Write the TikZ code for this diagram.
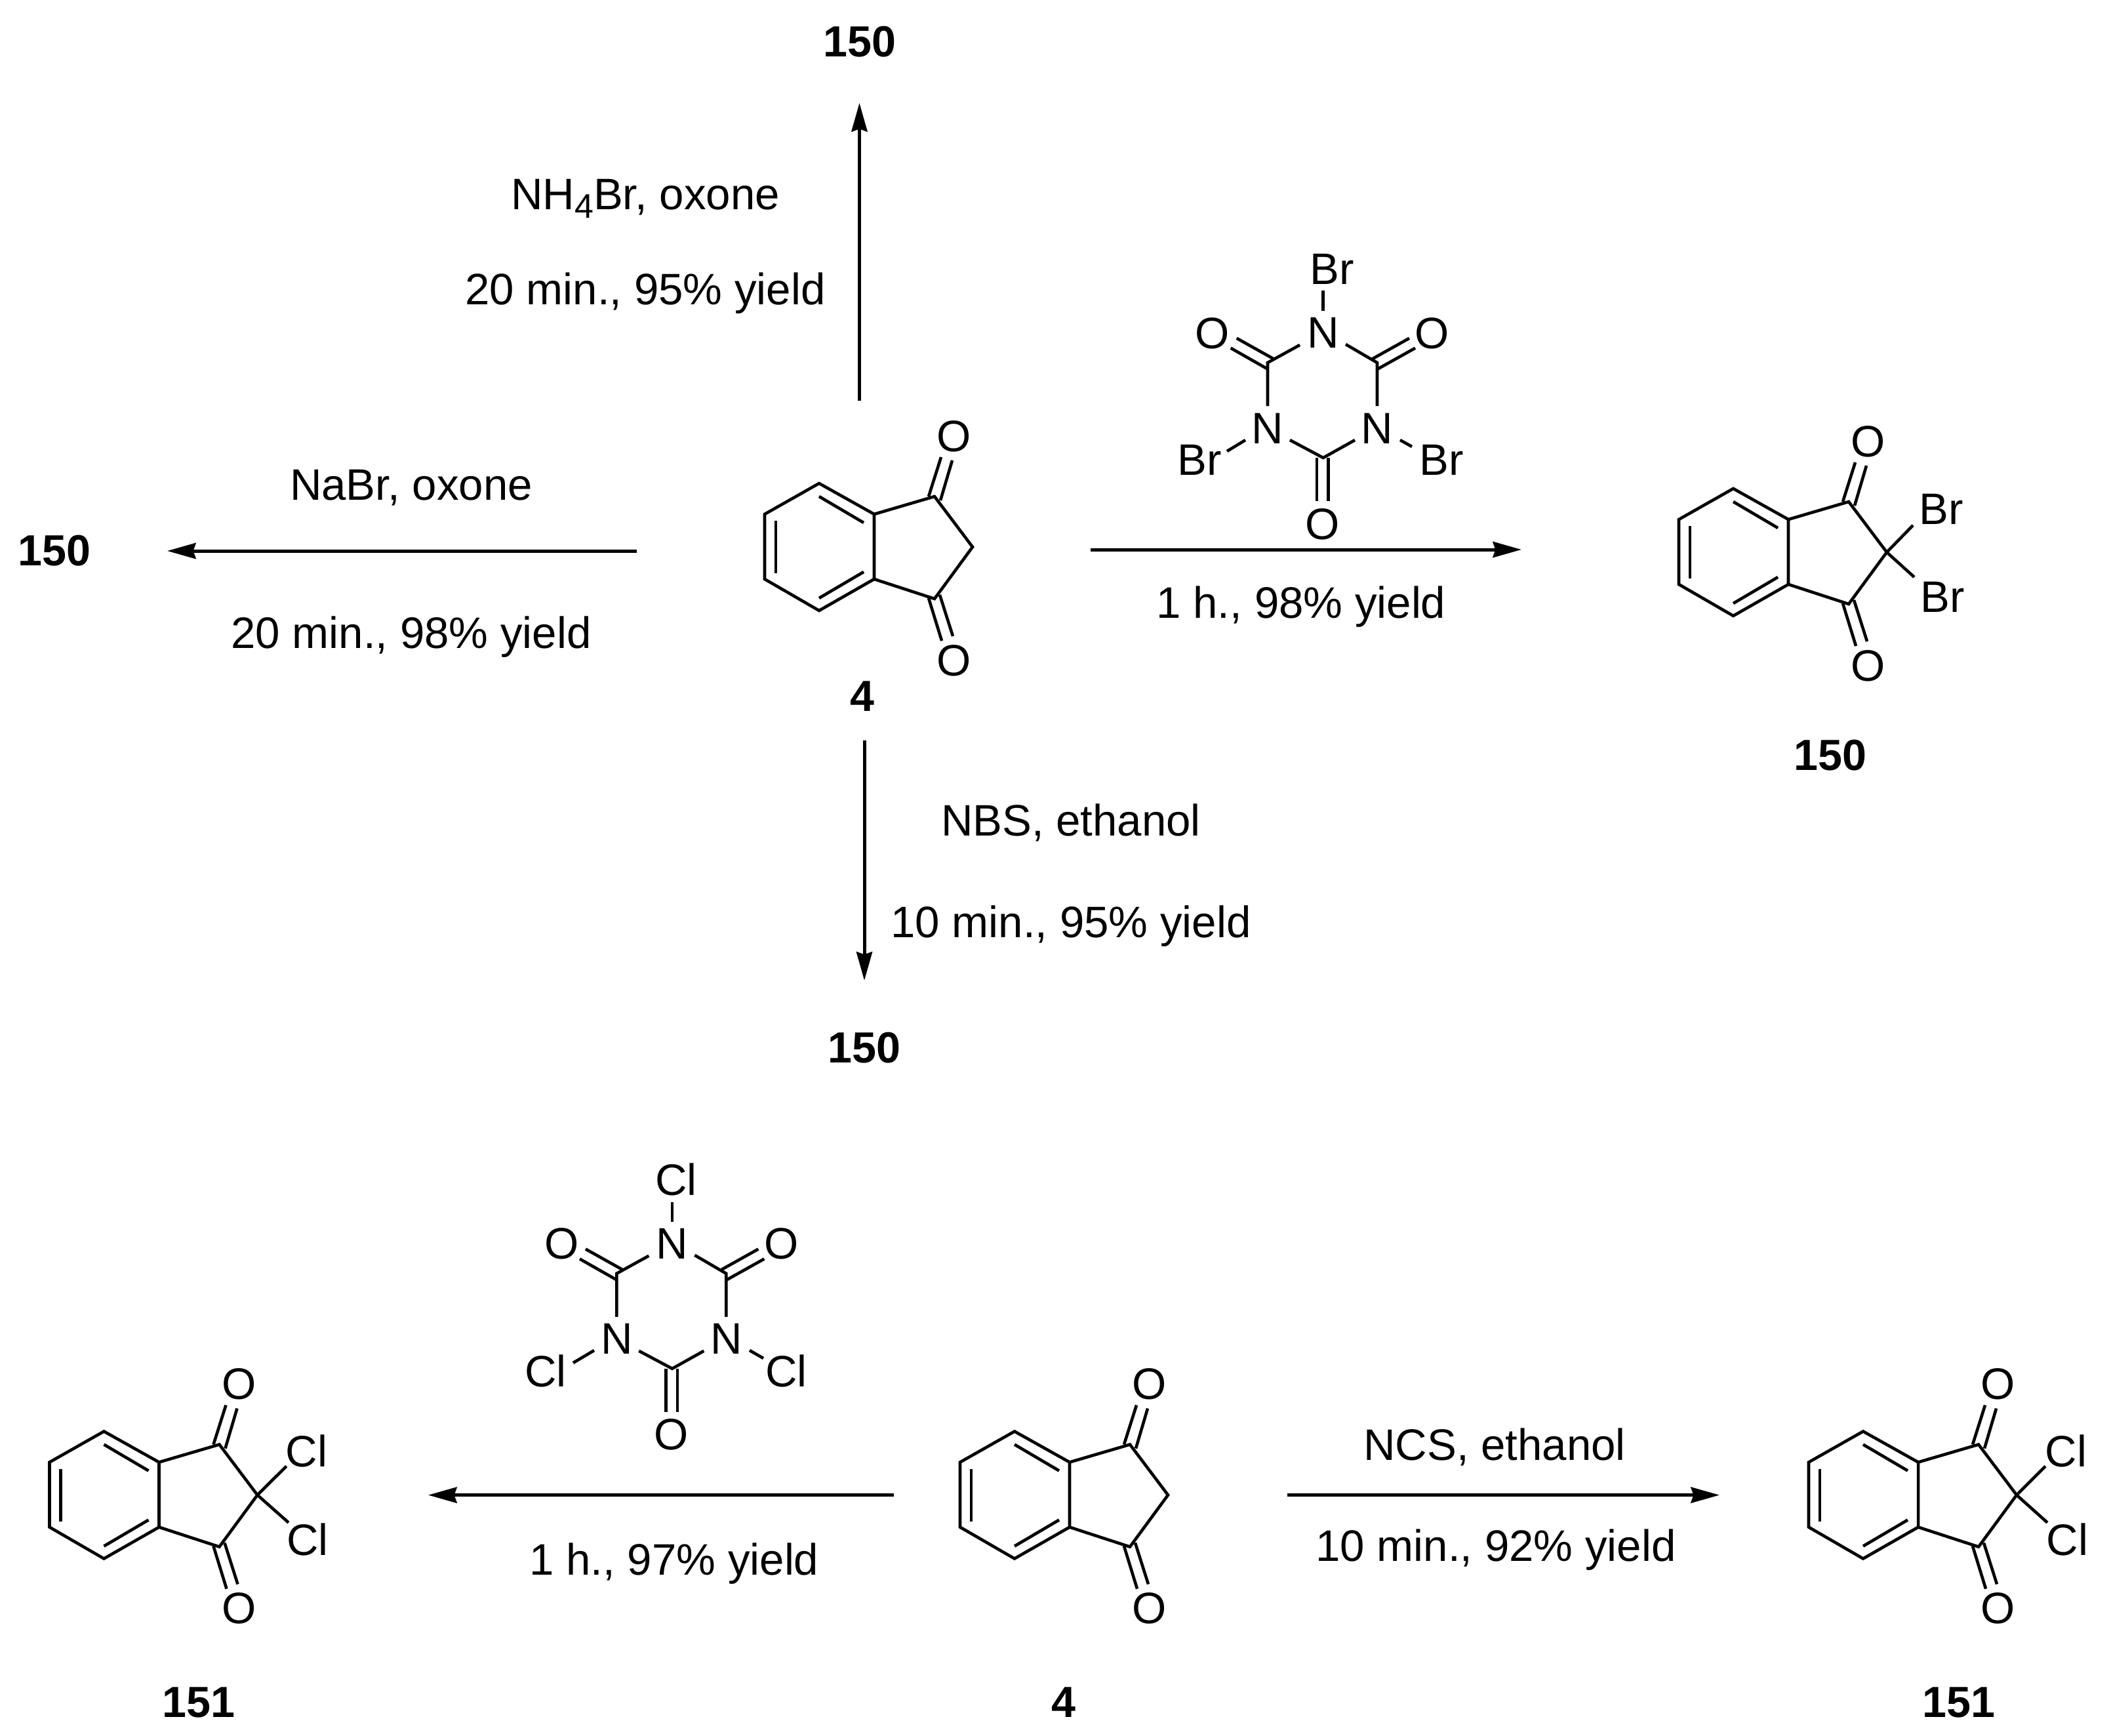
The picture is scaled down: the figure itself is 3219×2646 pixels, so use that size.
\documentclass[tikz,border=0pt]{standalone}
\usepackage{fontspec}
\setmainfont{Liberation Sans}
\usetikzlibrary{arrows.meta}
\tikzset{
  bond/.style={line width=1.15pt,line join=miter,line cap=butt,black},
  rxn/.style={line width=1.25pt,black,-{Stealth[length=10.9pt,width=6pt,inset=1pt]}},
  txt/.style={font=\fontsize{16.8}{20}\selectfont,inner sep=0pt,anchor=base,text=black},
  cmpd/.style={font=\fontsize{16.6}{20}\selectfont\bfseries,inner sep=0pt,anchor=base,text=black}
}
% #1 name prefix, (#2,#3) position of the ring CH2 / CX2 carbon
\newcommand{\indanedione}[3]{%
  \begin{scope}[shift={(#2,#3)}]
    \draw[bond] (-150,-50) -- (-234,-97) -- (-317,-50) -- (-317,49) -- (-234,97) -- (-150,49) -- cycle;
    \draw[bond] (-150,-50) -- (-58,-77) -- (0,0) -- (-58,79) -- (-150,49);
    \draw[bond] (-234,-77) -- (-166,-37);
    \draw[bond] (-300,-40) -- (-300,40);
    \draw[bond] (-234,78) -- (-166,38);
    \draw[bond] (-67,-77) -- (-48,-137);
    \draw[bond] (-49,-71) -- (-31,-132);
    \draw[bond] (-67,78) -- (-47,143);
    \draw[bond] (-50,73) -- (-30,136);
    \node[txt] (#1Ot) at (-28,-146) {O};
    \node[txt] (#1Ob) at (-28,196) {O};
  \end{scope}}
% #1 name prefix, (#2,#3) position of the lower ring carbon
\newcommand{\triazinane}[3]{%
  \begin{scope}[shift={(#2,#3)}]
    \draw[bond] (-35.7,-172) -- (-84.7,-145) -- (-84.7,-79);
    \draw[bond] (34.3,-173) -- (82.3,-145) -- (82.3,-79);
    \draw[bond] (-50.7,-27) -- (0,0) -- (48.3,-27);
    \draw[bond] (-132,-182.3) -- (-76,-151);
    \draw[bond] (-141,-167.3) -- (-84.7,-135.3);
    \draw[bond] (131.3,-182.3) -- (75.3,-151);
    \draw[bond] (140.3,-167.3) -- (83,-135.3);
    \draw[bond] (-9.7,0) -- (-9.7,66);
    \draw[bond] (8,0) -- (8,66);
    \node[txt] (#1Nt) at (0,-167.3) {N};
    \node[txt] (#1Nl) at (-84.7,-22) {N};
    \node[txt] (#1Nr) at (82.3,-22) {N};
    \node[txt] (#1Ol) at (-168.7,-167) {O};
    \node[txt] (#1Or) at (166.3,-167) {O};
    \node[txt] (#1Ob) at (-1,124) {O};
  \end{scope}}
\begin{document}
\begin{tikzpicture}[x=0.25pt,y=-0.25pt]
  \useasboundingbox (0,0) rectangle (3219,2646);

  % upper scheme
  \indanedione{sm}{1483}{834}
  \node[cmpd] (smlab) at (1315,1084) {4};

  \node[cmpd] (ptop) at (1311,86) {150};
  \coordinate (a1s) at (1310.5,611);
  \coordinate (a1e) at (1310.5,157);
  \draw[rxn] (a1s) -- (a1e);
  \node[txt] (t1a) at (984,319) {NH\raisebox{-3.25pt}{\fontsize{13}{13}\selectfont 4}Br, oxone};
  \node[txt] (t1b) at (984,464) {20 min., 95\% yield};

  \node[cmpd] (pleft) at (83,862) {150};
  \coordinate (a2s) at (971,840);
  \coordinate (a2e) at (255,840);
  \draw[rxn] (a2s) -- (a2e);
  \node[txt] (t2a) at (627,762) {NaBr, oxone};
  \node[txt] (t2b) at (627,988) {20 min., 98\% yield};

  \triazinane{tbca}{2017.7}{698}
  \node[txt] (brt) at (2031,433) {Br};
  \node[txt] (brl) at (1829,724) {Br};
  \node[txt] (brr) at (2198,724) {Br};
  \draw[bond] (2017.7,443) -- (2017.7,474);
  \draw[bond] (1899,671) -- (1871,688);
  \draw[bond] (2135,671) -- (2153,681);

  \coordinate (a3s) at (1663,838);
  \coordinate (a3e) at (2320,838);
  \draw[rxn] (a3s) -- (a3e);
  \node[txt] (t3b) at (1984,942) {1 h., 98\% yield};

  \indanedione{pr}{2877}{842}
  \draw[bond] (2877,842) -- (2917,801);
  \draw[bond] (2877,842) -- (2919,880);
  \node[txt] (prbr1) at (2960,799) {Br};
  \node[txt] (prbr2) at (2962,933) {Br};
  \node[cmpd] (prlab) at (2791,1174) {150};

  \coordinate (a4s) at (1318,1129);
  \coordinate (a4e) at (1318,1495);
  \draw[rxn] (a4s) -- (a4e);
  \node[txt] (t4a) at (1633,1274) {NBS, ethanol};
  \node[txt] (t4b) at (1633,1429) {10 min., 95\% yield};
  \node[cmpd] (pdown) at (1318,1620) {150};

  % lower scheme
  \indanedione{sb}{1781}{2279.5}
  \node[cmpd] (sblab) at (1622,2618.7) {4};

  \triazinane{tcca}{1025}{2086.8}
  \node[txt] (clt) at (1031,1822.5) {Cl};
  \node[txt] (cll) at (832,2114.3) {Cl};
  \node[txt] (clr) at (1199,2114.3) {Cl};
  \draw[bond] (1025,1833) -- (1025,1862.5);
  \draw[bond] (906,2059) -- (874,2078);
  \draw[bond] (1143,2059) -- (1164,2071);

  \coordinate (a5s) at (1363,2279.6);
  \coordinate (a5e) at (653,2279.6);
  \draw[rxn] (a5s) -- (a5e);
  \node[txt] (t5b) at (1028,2401) {1 h., 97\% yield};

  \indanedione{pl}{392.5}{2279.5}
  \draw[bond] (392.5,2279.5) -- (436.7,2235.6);
  \draw[bond] (392.5,2279.5) -- (440,2321.6);
  \node[txt] (plcl1) at (467.5,2236.4) {Cl};
  \node[txt] (plcl2) at (469,2371.3) {Cl};
  \node[cmpd] (pllab) at (303,2618.7) {151};

  \coordinate (a6s) at (1963,2279.6);
  \coordinate (a6e) at (2622,2279.6);
  \draw[rxn] (a6s) -- (a6e);
  \node[txt] (t6a) at (2279,2226) {NCS, ethanol};
  \node[txt] (t6b) at (2281,2380) {10 min., 92\% yield};

  \indanedione{prb}{3075}{2279.5}
  \draw[bond] (3075,2279.5) -- (3119,2235.6);
  \draw[bond] (3075,2279.5) -- (3122,2321.6);
  \node[txt] (prcl1) at (3150.5,2236.4) {Cl};
  \node[txt] (prcl2) at (3152.5,2371.3) {Cl};
  \node[cmpd] (prblab) at (2987,2618.7) {151};
\end{tikzpicture}
\end{document}
